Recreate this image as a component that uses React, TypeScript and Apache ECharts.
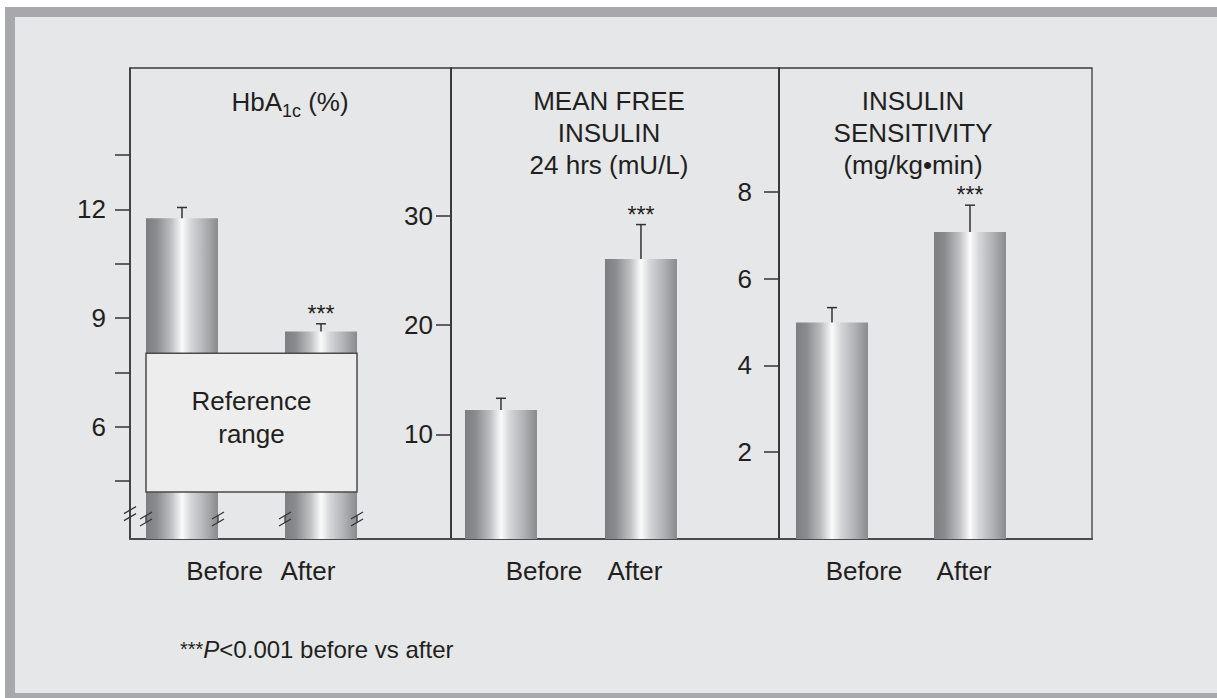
import React, { useEffect, useRef } from "react";
import * as echarts from "echarts";

// ---------------- data ----------------
const groupLabels = ["Before", "After"];
const groupPositions = [0, 1];
const significance = ["", "***"];

const hbaValues = [11.75, 8.63];
const hbaErrors = [0.3, 0.21];
const insulinValues = [12.22, 26.04];
const insulinErrors = [1.07, 3.14];
const sensitivityValues = [4.99, 7.07];
const sensitivityErrors = [0.34, 0.62];

const referenceRange = [4.2, 8.03];

const hbaTicks = [4.5, 6, 7.5, 9, 10.5, 12, 13.5];
const hbaTickLabels = [6, 9, 12];
const insulinTicks = [10, 20, 30];
const sensitivityTicks = [2, 4, 6, 8];

const hbaBreakLevel = 3.45;
const hbaAxisBreakLevel = 3.6;

// ---------------- styles ----------------
const FONT = '"Liberation Sans", Arial, Helvetica, sans-serif';
const INK = "#231f20";
const LINE = "#333335";
const HALF_BAR = 36;

const barGradient = {
  type: "linear",
  x: 0,
  y: 0,
  x2: 1,
  y2: 0,
  colorStops: [
    { offset: 0, color: "#7d7e81" },
    { offset: 0.15, color: "#8b8c8f" },
    { offset: 0.35, color: "#bebfc2" },
    { offset: 0.5, color: "#fbfbfb" },
    { offset: 0.62, color: "#d6d7d9" },
    { offset: 0.82, color: "#b0b1b4" },
    { offset: 1, color: "#898a8d" },
  ],
};

const panels = [
  {
    left: 130, width: 321, xMin: -0.374, xMax: 1.935, yMin: 2.9, yMax: 15.9,
    ticks: hbaTicks, labels: hbaTickLabels, labelMargin: 24,
    catLabelPos: [0.306, 0.906], values: hbaValues, errors: hbaErrors,
  },
  {
    left: 451, width: 328, xMin: -0.357, xMax: 1.986, yMin: 0.42, yMax: 43.5,
    ticks: insulinTicks, labels: insulinTicks, labelMargin: 18,
    catLabelPos: [0.307, 0.957], values: insulinValues, errors: insulinErrors,
  },
  {
    left: 779, width: 313, xMin: -0.384, xMax: 1.884, yMin: 0, yMax: 10.85,
    ticks: sensitivityTicks, labels: sensitivityTicks, labelMargin: 27,
    catLabelPos: [0.232, 0.957], values: sensitivityValues, errors: sensitivityErrors,
  },
];

function errorRenderItem(params: any, api: any) {
  const x = api.value(0);
  const v = api.value(1);
  const e = api.value(2);
  const base = api.coord([x, v]);
  const top = api.coord([x, v + e]);
  const children: any[] = [
    { type: "line", shape: { x1: base[0], y1: base[1], x2: top[0], y2: top[1] }, style: { stroke: LINE, lineWidth: 1.5 } },
    { type: "line", shape: { x1: top[0] - 5, y1: top[1], x2: top[0] + 5, y2: top[1] }, style: { stroke: LINE, lineWidth: 1.5 } },
  ];
  const sig = significance[params.dataIndex];
  if (sig) {
    children.push({
      type: "text",
      x: top[0],
      y: top[1] - 10,
      style: { text: sig, fill: INK, fontSize: 23, fontFamily: FONT, align: "center", verticalAlign: "middle" },
    });
  }
  return { type: "group", children };
}

function referenceRenderItem(params: any, api: any) {
  const p0 = api.coord([api.value(0), api.value(3)]);
  const p1 = api.coord([api.value(1), api.value(2)]);
  const x = p0[0] - HALF_BAR;
  const w = p1[0] - p0[0] + 2 * HALF_BAR;
  const y = p0[1];
  const h = p1[1] - p0[1];
  return {
    type: "group",
    children: [
      { type: "rect", shape: { x, y, width: w, height: h }, style: { fill: "#ededee", stroke: "#4a4a4c", lineWidth: 1.5 } },
      {
        type: "text",
        x: x + w / 2,
        y: y + h / 2 - 5,
        style: { text: "Reference\nrange", fill: INK, fontSize: 26, lineHeight: 33, fontFamily: FONT, align: "center", verticalAlign: "middle" },
      },
    ],
  };
}

function slashPair(cx: number, cy: number, withStem: boolean) {
  const gap = 3.5;
  const items: any[] = [
    { type: "line", shape: { x1: cx - 6, y1: cy - gap + 3.5, x2: cx + 6, y2: cy - gap - 3.5 }, style: { stroke: LINE, lineWidth: 1.2 } },
    { type: "line", shape: { x1: cx - 6, y1: cy + gap + 3.5, x2: cx + 6, y2: cy + gap - 3.5 }, style: { stroke: LINE, lineWidth: 1.2 } },
  ];
  if (withStem) {
    items.push({ type: "line", shape: { x1: cx, y1: cy - gap, x2: cx, y2: cy + gap }, style: { stroke: LINE, lineWidth: 1.2 } });
  }
  return items;
}

function breakRenderItem(params: any, api: any) {
  const p = api.coord([api.value(0), api.value(1)]);
  let children: any[] = [
    ...slashPair(p[0] - HALF_BAR, p[1], true),
    ...slashPair(p[0] + HALF_BAR, p[1], true),
  ];
  if (params.dataIndex === 0) {
    const a = api.coord([api.value(0), hbaAxisBreakLevel]);
    children = children.concat(slashPair(params.coordSys.x, a[1], false));
  }
  return { type: "group", children };
}

export default function App() {
  const ref = useRef<HTMLDivElement>(null);

  useEffect(() => {
    if (!ref.current) return;
    const chart = echarts.init(ref.current, undefined, { renderer: "svg" });

    const grid = panels.map((p) => ({
      left: p.left, top: 68, width: p.width, height: 471,
      show: true, borderColor: "#3a3a3c", borderWidth: 1.3, backgroundColor: "transparent",
    }));

    const xAxis = panels.map((p, i) => ({
      type: "value", gridIndex: i, min: p.xMin, max: p.xMax,
      axisLine: { show: true, onZero: false, lineStyle: { color: "#4a4a4c", width: 2 } },
      axisTick: { show: false },
      splitLine: { show: false },
      axisLabel: {
        show: true,
        customValues: p.catLabelPos,
        margin: 19,
        fontSize: 26,
        fontFamily: FONT,
        color: INK,
        formatter: (v: number) => {
          const k = p.catLabelPos.findIndex((q) => Math.abs(q - v) < 1e-6);
          return k >= 0 ? groupLabels[k] : "";
        },
      },
    }));

    const yAxis = panels.map((p, i) => ({
      type: "value", gridIndex: i, min: p.yMin, max: p.yMax,
      axisLine: { show: true, onZero: false, lineStyle: { color: LINE, width: 1.5 } },
      axisTick: { show: true, inside: false, length: 15, customValues: p.ticks, lineStyle: { color: LINE, width: 1.5 } },
      splitLine: { show: false },
      axisLabel: {
        show: true, customValues: p.labels, margin: p.labelMargin,
        fontSize: 26, fontFamily: FONT, color: INK,
      },
    }));

    const series: any[] = [];
    panels.forEach((p, i) => {
      series.push({
        type: "bar",
        xAxisIndex: i,
        yAxisIndex: i,
        barWidth: 72,
        clip: true,
        itemStyle: { color: barGradient },
        data: p.values.map((v, k) => [groupPositions[k], v]),
        z: 2,
      });
      series.push({
        type: "custom",
        xAxisIndex: i,
        yAxisIndex: i,
        renderItem: errorRenderItem,
        encode: { x: 0, y: 1 },
        data: p.values.map((v, k) => [groupPositions[k], v, p.errors[k]]),
        z: 3,
      });
    });

    series.push({
      type: "custom",
      xAxisIndex: 0,
      yAxisIndex: 0,
      renderItem: referenceRenderItem,
      encode: { x: [0, 1], y: [2, 3] },
      data: [[groupPositions[0], groupPositions[1], referenceRange[0], referenceRange[1]]],
      z: 4,
    });
    series.push({
      type: "custom",
      xAxisIndex: 0,
      yAxisIndex: 0,
      renderItem: breakRenderItem,
      encode: { x: 0, y: 1 },
      data: groupPositions.map((g) => [g, hbaBreakLevel]),
      z: 5,
    });

    const titleStyle = { fill: INK, fontSize: 26, lineHeight: 32, fontFamily: FONT, align: "center", verticalAlign: "middle" };

    chart.setOption({
      animation: false,
      backgroundColor: "transparent",
      grid,
      xAxis,
      yAxis,
      series,
      graphic: [
        {
          type: "text", x: 290, y: 102, z: 10,
          style: {
            text: "{m|HbA}{s|1c}{m| (%)}",
            fill: INK, fontFamily: FONT, align: "center", verticalAlign: "middle",
            rich: {
              m: { fontSize: 26, lineHeight: 26, fontFamily: FONT, fill: INK, verticalAlign: "middle" },
              s: { fontSize: 18, lineHeight: 36, fontFamily: FONT, fill: INK, verticalAlign: "bottom" },
            },
          },
        },
        { type: "text", x: 609, y: 133, z: 10, style: { ...titleStyle, text: "MEAN FREE\nINSULIN\n24 hrs (mU/L)" } },
        { type: "text", x: 913, y: 133, z: 10, style: { ...titleStyle, text: "INSULIN\nSENSITIVITY\n(mg/kg\u2022min)" } },
        {
          type: "text", x: 180, y: 649, z: 10,
          style: {
            text: "{a|***}{p|P}{n|<0.001 before vs after}",
            fill: INK, fontFamily: FONT, align: "left", verticalAlign: "middle",
            rich: {
              a: { fontSize: 20, fontFamily: FONT, fill: INK, lineHeight: 28, verticalAlign: "middle" },
              p: { fontSize: 24, fontFamily: FONT, fill: INK, fontStyle: "italic", lineHeight: 28 },
              n: { fontSize: 24, fontFamily: FONT, fill: INK, lineHeight: 28 },
            },
          },
        },
      ],
    });

    return () => chart.dispose();
  }, []);

  return (
    <div style={{ position: "fixed", left: 0, top: 0, width: 1217, height: 698, background: "#ffffff", overflow: "hidden" }}>
      <div style={{ position: "absolute", left: 5, top: 7, right: 0, bottom: 0, background: "#a7a8ab" }} />
      <div style={{ position: "absolute", left: 15, top: 17, right: 0, bottom: 5, background: "#e6e7e9" }} />
      <div ref={ref} style={{ position: "absolute", left: 0, top: 0, width: 1217, height: 698 }} />
    </div>
  );
}
